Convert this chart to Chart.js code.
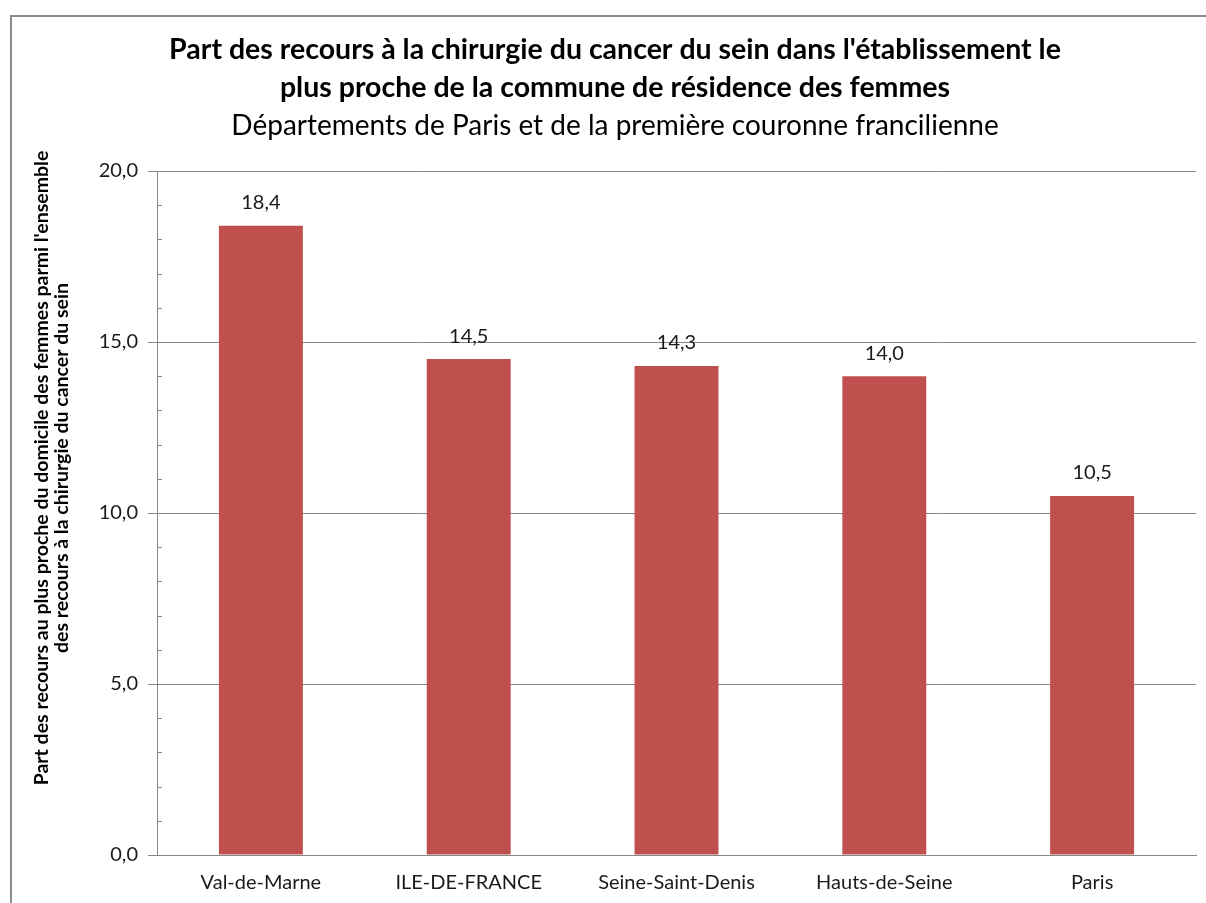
<!DOCTYPE html>
<html lang="fr">
<head>
<meta charset="utf-8">
<script src="https://cdn.jsdelivr.net/npm/chart.js@4.4.1/dist/chart.umd.min.js"></script>
<style>
  html, body { margin: 0; padding: 0; background: #fff; }
  #wrap { position: relative; width: 1206px; height: 903px; }
  #frame { position: absolute; left: 10px; top: 15px; right: -2px; bottom: -2px; border: 2px solid #8c8c8c; box-sizing: border-box; }
</style>
</head>
<body>
<div id="wrap">
  <div id="frame"></div>
  <canvas id="chart" width="1206" height="903"></canvas>
</div>
<script>
const categories = ["Val-de-Marne", "ILE-DE-FRANCE", "Seine-Saint-Denis", "Hauts-de-Seine", "Paris"]
const shares = [18.4, 14.5, 14.3, 14.0, 10.5]
const yTicks = [0, 5, 10, 15, 20]

const titleLines = [
  "Part des recours à la chirurgie du cancer du sein dans l'établissement le",
  "plus proche de la commune de résidence des femmes"
]
const subtitle = "Départements de Paris et de la première couronne francilienne"
const yTitleLines = [
  "Part des recours au plus proche du domicile des femmes parmi l'ensemble",
  "des recours à la chirurgie du cancer du sein"
]

const FONT = "Lato, 'Open Sans', sans-serif"
const TEXT = "#1a1a1a"
const GRID = "#878787"

const fmt = (v) => v.toFixed(1).replace(".", ",")

// titles, rotated axis title, minor ticks and value labels
const decorPlugin = {
  id: "decorPlugin",

  afterDraw: (chart) => {
    const { ctx, chartArea, scales } = chart
    if (!chartArea || !scales.y) {
      return
    }

    ctx.save()
    ctx.fillStyle = "#000"
    ctx.textAlign = "center"
    ctx.textBaseline = "middle"
    ctx.font = "bold 28.5px " + FONT
    ctx.fillText(titleLines[0], 615, 50)
    ctx.fillText(titleLines[1], 615, 88)
    ctx.font = "28px " + FONT
    ctx.fillText(subtitle, 615, 126)

    // axis title
    ctx.translate(42, 468)
    ctx.rotate(-Math.PI / 2)
    ctx.font = "bold 19.5px " + FONT
    ctx.fillText(yTitleLines[0], 0, 0)
    ctx.fillText(yTitleLines[1], 0, 20)
    ctx.restore()

    // minor ticks inside the axis
    ctx.save()
    ctx.strokeStyle = GRID
    ctx.lineWidth = 1
    const y = scales.y
    for (let v = y.min; v <= y.max; v += 1) {
      if (v % 5 === 0) continue
      const py = Math.round(y.getPixelForValue(v)) + 0.5
      ctx.beginPath()
      ctx.moveTo(chartArea.left, py)
      ctx.lineTo(chartArea.left + 5, py)
      ctx.stroke()
    }
    ctx.restore()

    // value labels
    ctx.save()
    ctx.fillStyle = TEXT
    ctx.font = "20px " + FONT
    ctx.textAlign = "center"
    ctx.textBaseline = "middle"
    const meta = chart.getDatasetMeta(0)
    meta.data.forEach((bar, i) => {
      ctx.fillText(fmt(shares[i]), bar.x, bar.y - 23)
    })
    ctx.restore()
  }
}

new Chart(document.getElementById("chart").getContext("2d"), {
  type: "bar",
  data: {
    labels: categories,
    datasets: [{
      data: shares,
      backgroundColor: "#C0504D",
      borderWidth: 0,
      categoryPercentage: 0.404,
      barPercentage: 1
    }]
  },
  options: {
    responsive: false,
    animation: false,
    layout: { padding: { top: 171, right: 10, left: 0, bottom: 0 } },
    plugins: {
      legend: { display: false },
      title: { display: false },
      tooltip: { enabled: false }
    },
    scales: {
      x: {
        grid: { display: false, drawTicks: false },
        border: { color: GRID, width: 1 },
        ticks: { color: TEXT, font: { family: FONT, size: 20 }, padding: 16, maxRotation: 0 },
        afterFit: (scale) => { scale.height = 48 }
      },
      y: {
        min: 0,
        max: 20,
        afterBuildTicks: (scale) => { scale.ticks = yTicks.map((v) => ({ value: v })) },
        grid: { color: GRID, tickLength: 9, lineWidth: 1 },
        border: { color: GRID, width: 1 },
        ticks: {
          color: TEXT,
          font: { family: FONT, size: 20 },
          padding: 10,
          callback: (v) => fmt(v)
        },
        afterFit: (scale) => { scale.width = 157 }
      }
    }
  },
  plugins: [decorPlugin]
})
</script>
</body>
</html>
